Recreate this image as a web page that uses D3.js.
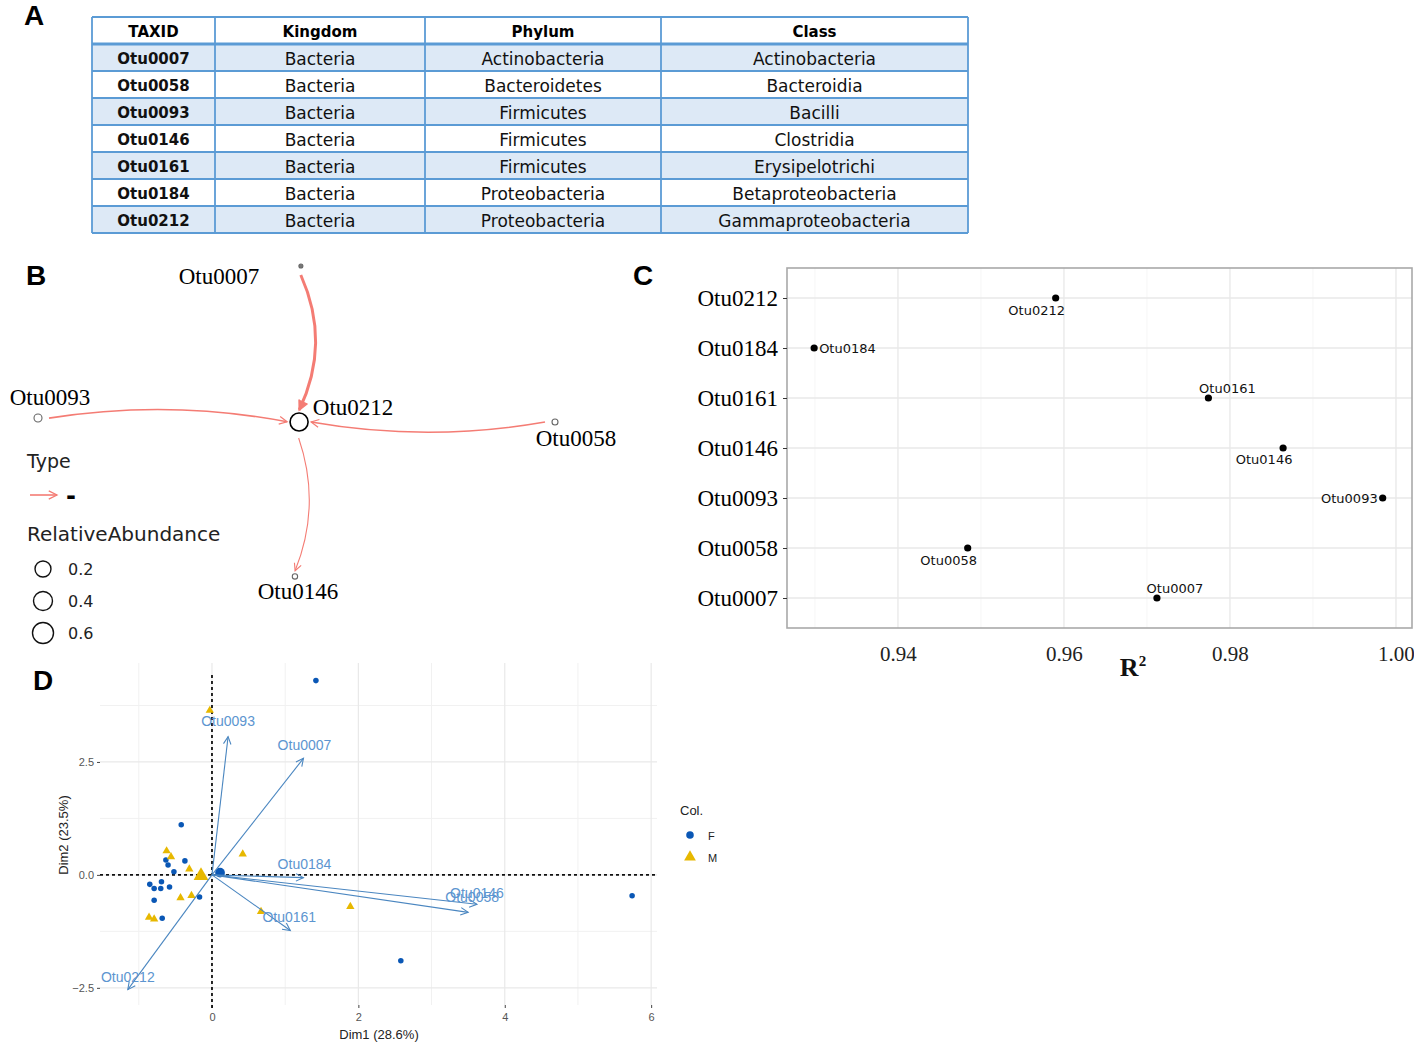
<!DOCTYPE html>
<html><head><meta charset="utf-8">
<script src="https://cdn.jsdelivr.net/npm/d3@7"></script>
<style>body{margin:0;background:#fff} svg{display:block}</style>
</head><body>
<svg id="c" width="1414" height="1045"></svg>
<script>
// ================= DATA =================
// Panel A: taxonomy table
const taxHeaders = ["TAXID", "Kingdom", "Phylum", "Class"];
const taxIds   = ["Otu0007","Otu0058","Otu0093","Otu0146","Otu0161","Otu0184","Otu0212"];
const kingdoms = ["Bacteria","Bacteria","Bacteria","Bacteria","Bacteria","Bacteria","Bacteria"];
const phyla    = ["Actinobacteria","Bacteroidetes","Firmicutes","Firmicutes","Firmicutes","Proteobacteria","Proteobacteria"];
const classes  = ["Actinobacteria","Bacteroidia","Bacilli","Clostridia","Erysipelotrichi","Betaproteobacteria","Gammaproteobacteria"];

// Panel B: network
const netNodes     = ["Otu0007","Otu0093","Otu0212","Otu0058","Otu0146"];
const netLayoutX   = [0.017, -1, 0.01, 1, -0.006];
const netLayoutY   = [1, 0.026, 0, 0, -0.99];
const netAbundance = [0.0008, 0.0126, 0.324, 0.004, 0.0025];
const edgeFrom     = ["Otu0007","Otu0093","Otu0058","Otu0212"];
const edgeTo       = ["Otu0212","Otu0212","Otu0212","Otu0146"];
const edgeWeight   = [0.9, 0.48, 0.48, 0.33];
const edgeTypes    = ["-"];
const abundanceLegend = [0.2, 0.4, 0.6];

// Panel C: R2
const r2Otus   = ["Otu0212","Otu0184","Otu0161","Otu0146","Otu0093","Otu0058","Otu0007"];
const r2Values = [0.9590, 0.9299, 0.9774, 0.9864, 0.9984, 0.9484, 0.9712];
const r2Ticks  = [0.94, 0.96, 0.98, 1.00];

// Panel D: PCA biplot
const indDim1 = [-0.42,-0.63,-0.37,-0.60,-0.52,-0.85,-0.69,-0.79,-0.70,-0.58,-0.79,-0.17,-0.68, 1.42, 2.58, 5.74,
                 -0.62,-0.56,-0.31,-0.43,-0.28,-0.86,-0.79, 0.42, 0.67,-0.03, 1.89];
const indDim2 = [ 1.11, 0.33, 0.31, 0.22, 0.07,-0.21,-0.15,-0.30,-0.30,-0.27,-0.56,-0.49,-0.96, 4.30,-1.90,-0.46,
                  0.53, 0.40, 0.13,-0.51,-0.46,-0.94,-0.98, 0.46,-0.81, 3.64,-0.70];
const indCol  = ["F","F","F","F","F","F","F","F","F","F","F","F","F","F","F","F",
                 "M","M","M","M","M","M","M","M","M","M","M"];
const meanCol  = ["F","M"];
const meanDim1 = [0.11, -0.15];
const meanDim2 = [0.05, -0.02];
const varNames = ["Otu0093","Otu0007","Otu0184","Otu0161","Otu0146","Otu0058","Otu0212"];
const varDim1  = [0.22, 1.25, 1.25, 1.07, 3.62, 3.50, -1.15];
const varDim2  = [3.06, 2.58,-0.06,-1.23,-0.65,-0.83, -2.54];
const colLevels = ["F","M"];

// ================= LAYOUT / STYLE =================
const netLabelDx = [-82, 12, 54, 21, 3];
const netLabelDy = [10, -20, -15, 16, 15];
const edgeBend   = [0.10, 0.04, 0.04, 0.08];
const r2LabelDx  = [-19, 5, 19, -19, -5, -19, 18];
const r2LabelDy  = [12, 0, -10, 11, 0, 12, -10];
const r2LabelAnchor = ["middle","start","middle","middle","end","middle","middle"];
const varLabelDx = [0, 1, 1, -1, 0, 4, 0];
const varLabelDy = [-16, -13, -14, -13, -11, -15, -13];

const svg = d3.select("#c");
const serif = "'Liberation Serif','Times New Roman',serif";
const verd  = "'DejaVu Sans',Verdana,sans-serif";
const arial = "'Liberation Sans',Arial,sans-serif";

// Panel letters
[["A",24,25],["B",26,285],["C",633,285],["D",33,690]].forEach(([t,x,y]) =>
  svg.append("text").attr("x",x).attr("y",y).text(t)
    .attr("font-family",arial).attr("font-weight","bold").attr("font-size",28).attr("fill","#000"));

// ================= PANEL A =================
(function(){
  const g = svg.append("g");
  const colEdges = [92, 215, 425, 661, 968];
  const rowsY = d3.scaleLinear().domain([0, 8]).range([17, 233]);
  const cols = [taxIds, kingdoms, phyla, classes];
  const blue = "#5b9bd5";
  taxIds.forEach((d,i) => {
    g.append("rect").attr("x",colEdges[0]).attr("y",rowsY(i+1))
      .attr("width",colEdges[4]-colEdges[0]).attr("height",rowsY(i+2)-rowsY(i+1))
      .attr("fill", i%2===0 ? "#dde9f6" : "#fff");
  });
  d3.range(0,9).forEach(i => {
    g.append("line").attr("x1",colEdges[0]).attr("x2",colEdges[4])
      .attr("y1",rowsY(i)).attr("y2",rowsY(i))
      .attr("stroke",blue).attr("stroke-width", i===1 ? 3.2 : 1.8);
  });
  colEdges.forEach(x => g.append("line").attr("x1",x).attr("x2",x)
      .attr("y1",rowsY(0)).attr("y2",rowsY(8)).attr("stroke",blue).attr("stroke-width",1.8));
  taxHeaders.forEach((h,j) => g.append("text")
    .attr("x",(colEdges[j]+colEdges[j+1])/2).attr("y",(rowsY(0)+rowsY(1))/2+1)
    .attr("text-anchor","middle").attr("dominant-baseline","central")
    .attr("font-family",verd).attr("font-weight","bold").attr("font-size",15).text(h));
  cols.forEach((arr,j) => arr.forEach((v,i) => g.append("text")
    .attr("x",(colEdges[j]+colEdges[j+1])/2).attr("y",(rowsY(i+1)+rowsY(i+2))/2+1)
    .attr("text-anchor","middle").attr("dominant-baseline","central")
    .attr("font-family",verd).attr("font-weight", j===0 ? "bold" : "normal")
    .attr("font-size", j===0 ? 15 : 17).attr("fill","#111").text(v)));
})();

// ================= PANEL B =================
(function(){
  const g = svg.append("g");
  const x = d3.scaleLinear().domain([-1, 1]).range([38, 555]);
  const y = d3.scaleLinear().domain([-1, 1]).range([578, 266]);
  const rScale = d3.scalePow().exponent(0.25).domain([0, 0.6]).range([0, 10.5]);
  const wScale = d3.scaleLinear().domain([0, 1]).range([0, 3.3]);
  const edgeColor = "#f47c74";
  const nodes = netNodes.map((n,i) => ({name:n, px:x(netLayoutX[i]), py:y(netLayoutY[i]), r:rScale(netAbundance[i]), i}));
  const byName = Object.fromEntries(nodes.map(n => [n.name, n]));

  const defs = svg.append("defs");
  edgeFrom.forEach((s,k) => {
    const w = wScale(edgeWeight[k]);
    defs.append("marker").attr("id","ah"+k).attr("viewBox","-1 -6 12 12")
      .attr("refX",9).attr("refY",0).attr("markerUnits","userSpaceOnUse")
      .attr("markerWidth", 8 + w*1.5).attr("markerHeight", 8 + w*1.5).attr("orient","auto")
      .append("path").attr("d","M0,-4.5L9,0L0,4.5").attr("fill", k===0 ? edgeColor : "none")
      .attr("stroke",edgeColor).attr("stroke-width",1.4);
  });

  edgeFrom.forEach((s,k) => {
    const a = byName[s], b = byName[edgeTo[k]];
    const dx = b.px - a.px, dy = b.py - a.py, len = Math.hypot(dx,dy);
    const ux = dx/len, uy = dy/len;
    const sx = a.px + ux*(a.r+7), sy = a.py + uy*(a.r+7);
    const ex = b.px - ux*(b.r+3), ey = b.py - uy*(b.r+3);
    const mx = (sx+ex)/2 + uy*edgeBend[k]*len*2, my = (sy+ey)/2 - ux*edgeBend[k]*len*2;
    const p = d3.path(); p.moveTo(sx,sy); p.quadraticCurveTo(mx,my,ex,ey);
    g.append("path").attr("d",p.toString()).attr("fill","none")
      .attr("stroke",edgeColor).attr("stroke-width",wScale(edgeWeight[k]))
      .attr("marker-end","url(#ah"+k+")");
  });

  g.selectAll("circle.node").data(nodes).join("circle").attr("class","node")
    .attr("cx",d=>d.px).attr("cy",d=>d.py).attr("r",d=>d.r)
    .attr("fill", d => d.r < 2.2 ? "#777" : "none")
    .attr("stroke", d => d.r > 6 ? "#000" : "#666").attr("stroke-width", d => d.r > 6 ? 1.6 : 1.1);

  g.selectAll("text.nl").data(nodes).join("text").attr("class","nl")
    .attr("x",d=>d.px+netLabelDx[d.i]).attr("y",d=>d.py+netLabelDy[d.i])
    .attr("text-anchor","middle").attr("dominant-baseline","central")
    .attr("font-family",serif).attr("font-size",23).attr("fill","#000").text(d=>d.name);

  // legend
  const lg = svg.append("g");
  lg.append("text").attr("x",27).attr("y",468).text("Type").attr("font-family",verd).attr("font-size",19).attr("fill","#222");
  defs.append("marker").attr("id","ahL").attr("viewBox","-1 -6 12 12").attr("refX",9).attr("refY",0)
    .attr("markerUnits","userSpaceOnUse").attr("markerWidth",11).attr("markerHeight",11).attr("orient","auto")
    .append("path").attr("d","M0,-4.5L9,0L0,4.5").attr("fill","none").attr("stroke",edgeColor).attr("stroke-width",1.4);
  lg.append("line").attr("x1",30).attr("x2",57).attr("y1",495).attr("y2",495)
    .attr("stroke",edgeColor).attr("stroke-width",1.6).attr("marker-end","url(#ahL)");
  lg.append("text").attr("x",66).attr("y",504).text(edgeTypes[0]).attr("font-family",verd)
    .attr("font-weight","bold").attr("font-size",24).attr("fill","#000");
  lg.append("text").attr("x",27).attr("y",541).text("RelativeAbundance").attr("font-family",verd).attr("font-size",20).attr("fill","#222");
  const ly = d3.scalePoint().domain(abundanceLegend).range([569, 633]);
  abundanceLegend.forEach(v => {
    lg.append("circle").attr("cx",43).attr("cy",ly(v)).attr("r",rScale(v)).attr("fill","none")
      .attr("stroke","#111").attr("stroke-width",1.4);
    lg.append("text").attr("x",68).attr("y",ly(v)).attr("dominant-baseline","central")
      .attr("font-family",verd).attr("font-size",16).attr("fill","#222").text(d3.format(".1f")(v));
  });
})();

// ================= PANEL C =================
(function(){
  const g = svg.append("g");
  const L = 787, R = 1412, T = 268, B = 628;
  const x = d3.scaleLinear().domain([0.92663, 1.00193]).range([L, R]);
  const y = d3.scalePoint().domain(r2Otus).range([T, B]).padding(0.6);
  const minor = r2Ticks.slice(0,-1).map(t => t+0.01).concat([0.93]);
  minor.forEach(t => g.append("line").attr("x1",x(t)).attr("x2",x(t)).attr("y1",T).attr("y2",B)
    .attr("stroke","#f3f3f3").attr("stroke-width",0.8));
  r2Ticks.forEach(t => g.append("line").attr("x1",x(t)).attr("x2",x(t)).attr("y1",T).attr("y2",B)
    .attr("stroke","#e6e6e6").attr("stroke-width",1.2));
  r2Otus.forEach(o => g.append("line").attr("x1",L).attr("x2",R).attr("y1",y(o)).attr("y2",y(o))
    .attr("stroke","#e8e8e8").attr("stroke-width",1.6));
  g.append("rect").attr("x",L).attr("y",T).attr("width",R-L).attr("height",B-T)
    .attr("fill","none").attr("stroke","#a9a9a9").attr("stroke-width",1.6);
  const ya = g.append("g").attr("transform",`translate(${L},0)`)
    .call(d3.axisLeft(y).tickSize(4).tickPadding(5));
  ya.select(".domain").remove();
  ya.selectAll("line").attr("stroke","#333");
  ya.selectAll("text").attr("font-family",serif).attr("font-size",23).attr("fill","#000");
  const xa = g.append("g").attr("transform",`translate(0,${B})`)
    .call(d3.axisBottom(x).tickValues(r2Ticks).tickFormat(d3.format(".2f")).tickSize(0).tickPadding(18));
  xa.select(".domain").remove();
  xa.selectAll("text").attr("font-family",serif).attr("font-size",21).attr("fill","#222");
  const rt = g.append("text").attr("x",1133).attr("y",676).attr("text-anchor","middle")
    .attr("font-family",serif).attr("font-weight","bold").attr("font-size",26).attr("fill","#111");
  rt.append("tspan").text("R");
  rt.append("tspan").attr("dy",-10).attr("font-size",15).text("2");
  r2Otus.forEach((o,i) => {
    g.append("circle").attr("cx",x(r2Values[i])).attr("cy",y(o)).attr("r",3.6).attr("fill","#000");
    g.append("text").attr("x",x(r2Values[i])+r2LabelDx[i]).attr("y",y(o)+r2LabelDy[i])
      .attr("text-anchor",r2LabelAnchor[i]).attr("dominant-baseline","central")
      .attr("font-family",verd).attr("font-size",13).attr("fill","#111").text(o);
  });
})();

// ================= PANEL D =================
(function(){
  const g = svg.append("g");
  const L = 100, R = 657, T = 663, B = 1005;
  const x = d3.scaleLinear().domain([-1.53, 6.08]).range([L, R]);
  const y = d3.scaleLinear().domain([-2.88, 4.69]).range([B, T]);
  const colColor = d3.scaleOrdinal().domain(colLevels).range(["#0a57b5","#e7b800"]);
  const colShape = d3.scaleOrdinal().domain(colLevels).range([d3.symbolCircle, d3.symbolTriangle]);
  const xMajor = [0,2,4,6], xMinor = [-1,1,3,5], yMajor = [-2.5,0,2.5], yMinor = [-1.25,1.25,3.75];
  xMinor.forEach(t => g.append("line").attr("x1",x(t)).attr("x2",x(t)).attr("y1",T).attr("y2",B).attr("stroke","#f1f1f1").attr("stroke-width",1));
  yMinor.forEach(t => g.append("line").attr("x1",L).attr("x2",R).attr("y1",y(t)).attr("y2",y(t)).attr("stroke","#f1f1f1").attr("stroke-width",1));
  xMajor.forEach(t => g.append("line").attr("x1",x(t)).attr("x2",x(t)).attr("y1",T).attr("y2",B).attr("stroke","#e9e9e9").attr("stroke-width",1.2));
  yMajor.forEach(t => g.append("line").attr("x1",L).attr("x2",R).attr("y1",y(t)).attr("y2",y(t)).attr("stroke","#e9e9e9").attr("stroke-width",1.2));
  const xa = g.append("g").attr("transform",`translate(0,${B})`)
    .call(d3.axisBottom(x).tickValues(xMajor).tickFormat(d3.format("d")).tickSize(3).tickPadding(5));
  const ya = g.append("g").attr("transform",`translate(${L},0)`)
    .call(d3.axisLeft(y).tickValues(yMajor).tickFormat(d3.format(".1f")).tickSize(3).tickPadding(3));
  [xa,ya].forEach(a => { a.select(".domain").remove(); a.selectAll("line").attr("stroke","#444");
    a.selectAll("text").attr("font-family",arial).attr("font-size",11).attr("fill","#555"); });
  g.append("text").attr("x",379).attr("y",1039).attr("text-anchor","middle").attr("font-family",arial)
    .attr("font-size",13).attr("fill","#222").text("Dim1 (28.6%)");
  g.append("text").attr("transform","translate(68,835) rotate(-90)").attr("text-anchor","middle")
    .attr("font-family",arial).attr("font-size",13).attr("fill","#222").text("Dim2 (23.5%)");
  g.append("line").attr("x1",L).attr("x2",R).attr("y1",y(0)).attr("y2",y(0))
    .attr("stroke","#111").attr("stroke-width",1.8).attr("stroke-dasharray","3,3");
  g.append("line").attr("x1",x(0)).attr("x2",x(0)).attr("y1",675).attr("y2",B+3)
    .attr("stroke","#111").attr("stroke-width",1.8).attr("stroke-dasharray","3,3");
  const sym = d3.symbol();
  indDim1.forEach((d,i) => g.append("path")
    .attr("d", sym.type(colShape(indCol[i])).size(indCol[i]==="F" ? 24 : 30)())
    .attr("transform",`translate(${x(d)},${y(indDim2[i])})`).attr("fill",colColor(indCol[i])));
  meanDim1.forEach((d,i) => g.append("path")
    .attr("d", sym.type(colShape(meanCol[i])).size(meanCol[i]==="F" ? 75 : 95)())
    .attr("transform",`translate(${x(d)},${y(meanDim2[i])})`).attr("fill",colColor(meanCol[i])));
  const defs = svg.append("defs");
  defs.append("marker").attr("id","pca").attr("viewBox","-1 -6 12 12").attr("refX",9).attr("refY",0)
    .attr("markerUnits","userSpaceOnUse").attr("markerWidth",10).attr("markerHeight",10).attr("orient","auto")
    .append("path").attr("d","M0,-4.5L9,0L0,4.5").attr("fill","none").attr("stroke","#4a86c0").attr("stroke-width",1.3);
  varNames.forEach((n,i) => {
    g.append("line").attr("x1",x(0)).attr("y1",y(0)).attr("x2",x(varDim1[i])).attr("y2",y(varDim2[i]))
      .attr("stroke","#4a86c0").attr("stroke-width",1.1).attr("marker-end","url(#pca)");
  });
  varNames.forEach((n,i) => g.append("text").attr("x",x(varDim1[i])+varLabelDx[i]).attr("y",y(varDim2[i])+varLabelDy[i])
    .attr("text-anchor","middle").attr("dominant-baseline","central").attr("font-family",arial)
    .attr("font-size",14).attr("fill","#5c95d0").text(n));
  const lg = svg.append("g");
  lg.append("text").attr("x",680).attr("y",815).attr("font-family",arial).attr("font-size",13).attr("fill","#222").text("Col.");
  const ly = d3.scalePoint().domain(colLevels).range([835, 857]);
  colLevels.forEach(c => {
    lg.append("path").attr("d", sym.type(colShape(c)).size(c==="F" ? 45 : 60)())
      .attr("transform",`translate(690,${ly(c)})`).attr("fill",colColor(c));
    lg.append("text").attr("x",708).attr("y",ly(c)+1).attr("dominant-baseline","central")
      .attr("font-family",arial).attr("font-size",11).attr("fill","#222").text(c);
  });
})();
</script>
</body></html>
